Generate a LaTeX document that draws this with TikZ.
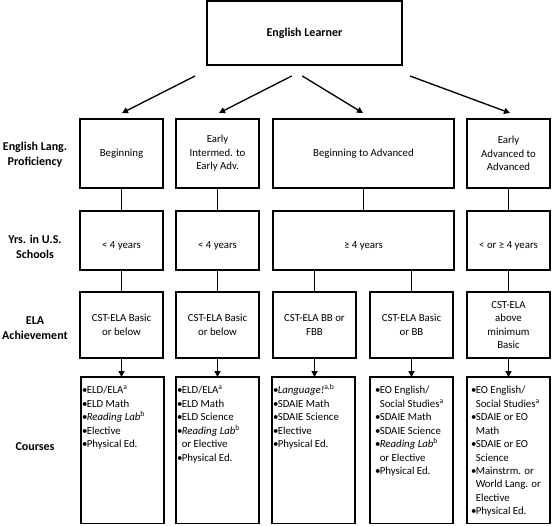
\documentclass[tikz,border=0pt]{standalone}
\usepackage{fontspec}
\setmainfont{Carlito}
\usetikzlibrary{arrows.meta}
\newcommand\bul{\makebox[3.6pt][l]{\textbullet}}
\newcommand\indt{\hspace*{3.6pt}}
\newcommand\tstrut{\rule{0pt}{8pt}}
\begin{document}
\begin{tikzpicture}[x=0.75pt,y=-0.75pt,
  every node/.style={inner sep=0pt, outer sep=0pt},
  box/.style 2 args={draw=black, line width=1pt, minimum width=#1*0.75pt, minimum height=#2*0.75pt, align=center, font=\fontsize{8.1}{10.1}\selectfont},
  yrs/.style={text height=13.5pt, text depth=1.9pt},
  lbl/.style={align=center, font=\bfseries\fontsize{9}{11.25}\selectfont},
  conn/.style={line width=1pt},
  arr/.style={line width=1pt, -{Triangle[width=4.5pt,length=4.5pt]}},
  list/.style={anchor=north west, align=left, font=\fontsize{8.1}{10.1}\selectfont},
]
\useasboundingbox (0,0) rectangle (553,525);

% top
\node[box={195}{64}, font=\bfseries\fontsize{9}{11}\selectfont] (top) at (304.5,33) {English Learner};

% row labels
\node[lbl] (l1) at (35,155) {English Lang.\\Proficiency};
\node[lbl] (l2) at (35,246.5) {Yrs. in U.S.\\Schools};
\node[lbl] (l3) at (35,328) {ELA\\Achievement};
\node[lbl] (l4) at (35,447) {Courses};

% row 1
\node[box={83}{69}] (p1) at (121.5,153.5) {Beginning};
\node[box={83}{69}] (p2) at (217.5,153.5) {Early\\Intermed. to\\Early Adv.};
\node[box={181}{69}] (p3) at (363.5,153.5) {Beginning to Advanced};
\node[box={83}{69}] (p4) at (508.5,153.5) {Early\\Advanced to\\Advanced};

% row 2
\node[box={83}{59}, yrs] (y1) at (121.5,240.5) {< 4 years};
\node[box={83}{59}, yrs] (y2) at (217.5,240.5) {< 4 years};
\node[box={181}{59}, yrs] (y3) at (363.5,240.5) {≥ 4 years};
\node[box={83}{59}, yrs] (y4) at (508.5,240.5) {< or ≥ 4 years};

% row 3
\node[box={83}{66}] (e1) at (121.5,325) {CST-ELA Basic\\or below};
\node[box={83}{66}] (e2) at (217.5,325) {CST-ELA Basic\\or below};
\node[box={83}{66}] (e3) at (314.5,325) {CST-ELA BB or\\FBB};
\node[box={83}{66}] (e4) at (411.5,325) {CST-ELA Basic\\or BB};
\node[box={83}{66}] (e5) at (508.5,325) {CST-ELA\\above\\minimum\\Basic};

% row 4
\node[box={83}{146.5}] (c1) at (122.5,450.25) {};
\node[box={83}{146.5}] (c2) at (217.5,450.25) {};
\node[box={83}{146.5}] (c3) at (313.5,450.25) {};
\node[box={83}{146.5}] (c4) at (411.5,450.25) {};
\node[box={83}{146.5}] (c5) at (508.5,450.25) {};

\node[list] (t1) at (82,383) {\tstrut\bul ELD/ELA\textsuperscript{a}\\\bul ELD Math\\\bul\textit{Reading Lab}\textsuperscript{b}\\\bul Elective\\\bul Physical Ed.};
\node[list] (t2) at (177,383) {\tstrut\bul ELD/ELA\textsuperscript{a}\\\bul ELD Math\\\bul ELD Science\\\bul\textit{Reading Lab}\textsuperscript{b}\\\indt or Elective\\\bul Physical Ed.};
\node[list] (t3) at (273,383) {\tstrut\bul\textit{Language!}\textsuperscript{a,b}\\\bul SDAIE Math\\\bul SDAIE Science\\\bul Elective\\\bul Physical Ed.};
\node[list] (t4) at (375,383) {\tstrut\bul EO English/\\\indt Social Studies\textsuperscript{a}\\\bul SDAIE Math\\\bul SDAIE Science\\\bul\textit{Reading Lab}\textsuperscript{b}\\\indt or Elective\\\bul Physical Ed.};
\node[list] (t5) at (471,383) {\tstrut\bul EO English/\\\indt Social Studies\textsuperscript{a}\\\bul SDAIE or EO\\\indt Math\\\bul SDAIE or EO\\\indt Science\\\bul Mainstrm. or\\\indt World Lang. or\\\indt Elective\\\bul Physical Ed.};

% top arrows
\coordinate (a1s) at (195,76);   \coordinate (a1e) at (122,113);
\coordinate (a2s) at (291.7,76); \coordinate (a2e) at (219,113);
\coordinate (a3s) at (302.3,76); \coordinate (a3e) at (363,113);
\coordinate (a4s) at (410,76);   \coordinate (a4e) at (510,113);
\draw[arr] (a1s) -- (a1e);
\draw[arr] (a2s) -- (a2e);
\draw[arr] (a3s) -- (a3e);
\draw[arr] (a4s) -- (a4e);

% connectors
\draw[conn] (p1) -- (y1);
\draw[conn] (p2) -- (y2);
\draw[conn] (p3) -- (y3);
\draw[conn] (p4) -- (y4);
\draw[conn] (y1) -- (e1);
\draw[conn] (y2) -- (e2);
\draw[conn] (y3.south -| e3) -- (e3.north);
\draw[conn] (y3.south -| e4) -- (e4.north);
\draw[conn] (y4) -- (e5);
\draw[arr] (e1.south) -- (e1.south |- c1.north);
\draw[arr] (e2.south) -- (e2.south |- c2.north);
\draw[arr] (e3.south) -- (e3.south |- c3.north);
\draw[arr] (e4.south) -- (e4.south |- c4.north);
\draw[arr] (e5.south) -- (e5.south |- c5.north);
\end{tikzpicture}
\end{document}
